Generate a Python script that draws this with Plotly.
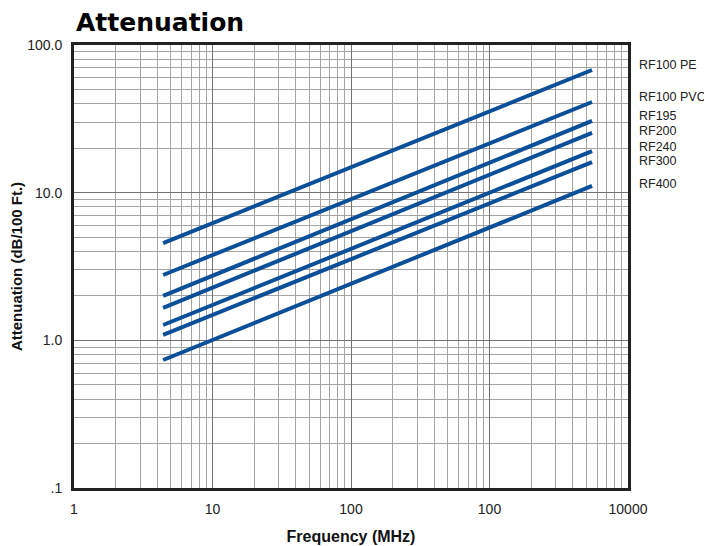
import math
import plotly.graph_objects as go

cables = ["RF100 PE", "RF100 PVC", "RF195", "RF200", "RF240", "RF300", "RF400"]
freq_mhz = [4.4, 5500]
atten_start = [4.56, 2.77, 2.0, 1.66, 1.27, 1.09, 0.736]
atten_end = [67.7, 41.1, 30.6, 25.4, 19.1, 16.1, 11.1]
label_y = [73.3, 44.5, 32.8, 26.3, 20.4, 16.4, 11.5]

x_tickvals = [1, 10, 100, 1000, 10000]
x_ticktext = ["1", "10", "100", "100", "10000"]
y_tickvals = [0.1, 1, 10, 100]
y_ticktext = [".1", "1.0", "10.0", "100.0"]

LINE = "#0a4f98"
FONT = "Liberation Sans, Arial, sans-serif"

# page has an 8px body margin; figure size/margins compensate for it
W, H = 704, 538

fig = go.Figure()
for name, a0, a1 in zip(cables, atten_start, atten_end):
    fig.add_trace(go.Scatter(x=freq_mhz, y=[a0, a1], mode="lines", name=name,
                             line=dict(color=LINE, width=4), showlegend=False))

for name, ly in zip(cables, label_y):
    fig.add_annotation(x=1, xref="paper", xanchor="left", xshift=9,
                       y=math.log10(ly), yref="y", yanchor="middle",
                       text=name, showarrow=False,
                       font=dict(family=FONT, size=12.5, color="#222"))

axis_common = dict(
    type="log", automargin=False,
    showline=True, mirror=True, linewidth=3, linecolor="#222",
    showgrid=True, gridcolor="#727272", gridwidth=1.4,
    ticks="outside", tickcolor="rgba(0,0,0,0)",
    tickfont=dict(family=FONT, size=14, color="#222"),
    zeroline=False,
    minor=dict(dtick="D1", showgrid=True, gridcolor="#a4a4a4", gridwidth=1, ticks=""),
)

fig.update_xaxes(**axis_common, range=[0, 4], tickvals=x_tickvals, ticktext=x_ticktext,
                 ticklen=6,
                 title=dict(text="<b>Frequency (MHz)</b>", font=dict(family=FONT, size=16, color="#111"), standoff=16))
fig.update_yaxes(**axis_common, range=[-1, 2], tickvals=y_tickvals, ticktext=y_ticktext,
                 ticklen=6,
                 title=dict(text="<b>Attenuation (dB/100 Ft.)</b>", font=dict(family=FONT, size=15, color="#111"), standoff=12))

fig.update_layout(
    width=W, height=H,
    margin=dict(l=66, r=84, t=37, b=58, autoexpand=False),
    paper_bgcolor="white", plot_bgcolor="white",
    title=dict(text="<b>Attenuation</b>", x=68/W, xanchor="left", y=1-14/H, yanchor="middle",
               font=dict(family="DejaVu Sans, Arial Black, sans-serif", size=25, color="#000")),
)

fig.write_html("out.html")
